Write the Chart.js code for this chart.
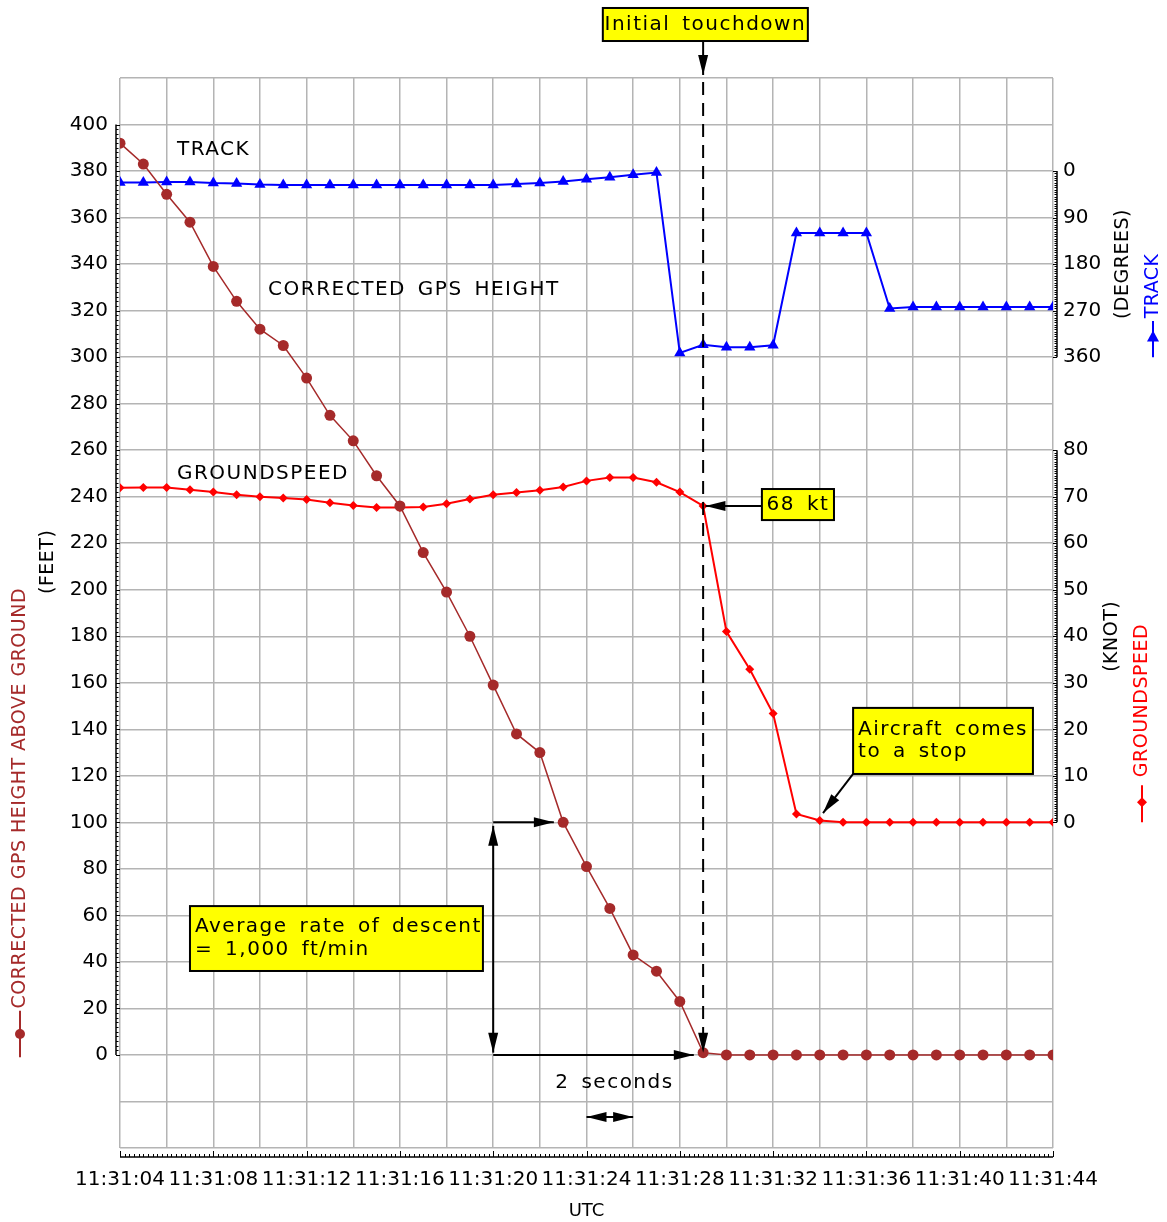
<!DOCTYPE html>
<html>
<head>
<meta charset="utf-8">
<script src="https://cdn.jsdelivr.net/npm/chart.js@4.4.1/dist/chart.umd.min.js"></script>
<style>
  html, body { margin: 0; padding: 0; background: #fff; }
</style>
</head>
<body>
<canvas id="chart" width="1167" height="1222"></canvas>
<script>
// seconds after 11:31:04 UTC (one sample per second)
const sampleSeconds = [0, 1, 2, 3, 4, 5, 6, 7, 8, 9, 10, 11, 12, 13, 14, 15, 16, 17, 18, 19, 20,
  21, 22, 23, 24, 25, 26, 27, 28, 29, 30, 31, 32, 33, 34, 35, 36, 37, 38, 39, 40];
const timeTickLabels = ['11:31:04', '11:31:08', '11:31:12', '11:31:16', '11:31:20', '11:31:24',
  '11:31:28', '11:31:32', '11:31:36', '11:31:40', '11:31:44'];

// corrected GPS height above ground (feet)
const heightFt = [392, 383, 370, 358, 339, 324, 312, 305, 291, 275, 264, 249, 236, 216, 199, 180,
  159, 138, 130, 100, 81, 63, 43, 36, 23, 1, 0, 0, 0, 0, 0, 0, 0, 0, 0, 0, 0, 0, 0, 0, 0];
// track (degrees)
const trackDeg = [22, 22, 21, 21, 23, 24, 26, 27, 27, 27, 27, 27, 27, 27, 27, 27,
  27, 25, 23, 20, 16, 12, 7, 3, 352, 336, 341, 341, 337, 120, 120, 120, 120, 266, 263, 263,
  263, 263, 263, 263, 263];
// groundspeed (knots)
const groundspeedKt = [71.9, 72.0, 72.0, 71.5, 71.0, 70.4, 70.0, 69.7, 69.4, 68.7, 68.1, 67.7,
  67.7, 67.8, 68.5, 69.5, 70.4, 70.9, 71.4, 72.1, 73.4, 74.1, 74.1, 73.1, 71.0, 68.0, 41.0,
  32.9, 23.4, 1.8, 0.4, 0, 0, 0, 0, 0, 0, 0, 0, 0, 0];

const heightTicks = [0, 20, 40, 60, 80, 100, 120, 140, 160, 180, 200, 220, 240, 260, 280, 300,
  320, 340, 360, 380, 400];
const trackTicks = [0, 90, 180, 270, 360];
const speedTicks = [0, 10, 20, 30, 40, 50, 60, 70, 80];

const touchdownSec = 25;

const FONT = 'DejaVu Sans';
const GRID = '#b4b4b4';
const BROWN = '#a52a2a';

Chart.defaults.font.family = FONT;
Chart.defaults.font.size = 20;
Chart.defaults.color = '#000';

function pts(values) {
  return values.map((v, i) => ({ x: sampleSeconds[i], y: v }));
}

function arrowHead(ctx, x, y, ang, len, half) {
  len = len || 20; half = half || 5;
  ctx.save();
  ctx.translate(x, y);
  ctx.rotate(ang);
  ctx.beginPath();
  ctx.moveTo(0, 0);
  ctx.lineTo(-len, -half);
  ctx.lineTo(-len, half);
  ctx.closePath();
  ctx.fill();
  ctx.restore();
}

function arrow(ctx, x1, y1, x2, y2, both) {
  ctx.beginPath();
  ctx.moveTo(x1, y1);
  ctx.lineTo(x2, y2);
  ctx.stroke();
  const a = Math.atan2(y2 - y1, x2 - x1);
  arrowHead(ctx, x2, y2, a);
  if (both) arrowHead(ctx, x1, y1, a + Math.PI);
}

function noteBox(ctx, x1, y1, x2, y2, lines, lineGap) {
  ctx.fillStyle = '#ffff00';
  ctx.fillRect(x1, y1, x2 - x1, y2 - y1);
  ctx.strokeStyle = '#000';
  ctx.lineWidth = 2;
  ctx.strokeRect(x1, y1, x2 - x1, y2 - y1);
  ctx.fillStyle = '#000';
  ctx.textBaseline = 'middle';
  if (lines.length === 1) {
    ctx.textAlign = 'center';
    ctx.fillText(lines[0], (x1 + x2) / 2, (y1 + y2) / 2);
  } else {
    ctx.textAlign = 'left';
    const start = (y1 + y2) / 2 - (lines.length - 1) * lineGap / 2;
    lines.forEach((t, i) => ctx.fillText(t, x1 + 5, start + i * lineGap));
  }
}

function ruler(ctx, fixed, from, to, step, majorEvery, minorLen, majorLen, vertical, scale) {
  ctx.beginPath();
  if (vertical) {
    ctx.moveTo(fixed, scale.getPixelForValue(from));
    ctx.lineTo(fixed, scale.getPixelForValue(to));
  } else {
    ctx.moveTo(scale.getPixelForValue(from), fixed);
    ctx.lineTo(scale.getPixelForValue(to), fixed);
  }
  ctx.lineWidth = 1.5;
  ctx.stroke();
  ctx.beginPath();
  const n = Math.round((to - from) / step);
  for (let k = 0; k <= n; k++) {
    const v = from + k * step;
    const p = Math.round(scale.getPixelForValue(v)) + 0.5;
    const major = Math.abs(v / majorEvery - Math.round(v / majorEvery)) < 1e-6;
    const len = major ? majorLen : minorLen;
    if (vertical) { ctx.moveTo(fixed, p); ctx.lineTo(fixed + len, p); }
    else { ctx.moveTo(p, fixed); ctx.lineTo(p, fixed + len); }
  }
  ctx.lineWidth = 1;
  ctx.stroke();
}

function rotatedText(ctx, text, x, y, color, align) {
  ctx.save();
  ctx.translate(x, y);
  ctx.rotate(-Math.PI / 2);
  ctx.fillStyle = color;
  ctx.textAlign = align;
  ctx.textBaseline = 'middle';
  ctx.fillText(text, 0, 0);
  ctx.restore();
}

const decorPlugin = {
  id: 'decor',
  afterDatasetsDraw(chart) {
    const ctx = chart.ctx;
    const xs = chart.scales.x, ys = chart.scales.y, ss = chart.scales.ySpeed;
    const X = v => xs.getPixelForValue(v);
    const Y = v => ys.getPixelForValue(v);
    const area = chart.chartArea;

    ctx.save();
    ctx.font = '20px "' + FONT + '"';
    ctx.letterSpacing = '1.5px';
    ctx.wordSpacing = '4px';

    // series labels
    ctx.fillStyle = '#000';
    ctx.textAlign = 'left';
    ctx.textBaseline = 'middle';
    ctx.fillText('TRACK', X(2.44), Y(389));
    ctx.fillText('CORRECTED GPS HEIGHT', X(6.35), Y(329));
    ctx.fillText('GROUNDSPEED', X(2.44), Y(250));

    // touchdown line
    ctx.strokeStyle = '#000';
    ctx.fillStyle = '#000';
    ctx.lineWidth = 2;
    ctx.setLineDash([13, 8]);
    ctx.beginPath();
    ctx.moveTo(X(touchdownSec), area.top + 4);
    ctx.lineTo(X(touchdownSec), Y(8));
    ctx.stroke();
    ctx.setLineDash([]);
    arrowHead(ctx, X(touchdownSec), Y(1), Math.PI / 2);
    arrow(ctx, X(touchdownSec), Y(436), X(touchdownSec), area.top - 3);
    noteBox(ctx, X(20.7), Y(450.1), X(29.49), Y(435.9), ['Initial touchdown']);

    // 68 kt
    ctx.lineWidth = 2;
    arrow(ctx, X(27.52), ss.getPixelForValue(68), X(25.1), ss.getPixelForValue(68));
    noteBox(ctx, X(27.52), Y(243.3), X(30.61), Y(229.95), ['68 kt']);

    // aircraft comes to a stop
    ctx.lineWidth = 2;
    arrow(ctx, X(31.43), Y(120.8), X(30.14), Y(104));
    noteBox(ctx, X(31.43), Y(149.2), X(39.14), Y(120.8), ['Aircraft comes', 'to a stop'], 22);

    // descent rate construction
    ctx.lineWidth = 2;
    arrow(ctx, X(16), Y(98.5), X(16), Y(1), true);
    arrow(ctx, X(16), Y(100), X(18.6), Y(100));
    arrow(ctx, X(16), Y(0), X(24.6), Y(0));
    noteBox(ctx, X(3.0), Y(64), X(15.56), Y(36.1), ['Average rate of descent', '= 1,000 ft/min'], 23);

    ctx.fillStyle = '#000';
    ctx.textAlign = 'center';
    ctx.textBaseline = 'middle';
    ctx.fillText('2 seconds', X(21.2), Y(-12));
    ctx.lineWidth = 2;
    arrow(ctx, X(20), Y(-26.7), X(22), Y(-26.7), true);
    ctx.restore();
  },
  afterDraw(chart) {
    const ctx = chart.ctx;
    const area = chart.chartArea;
    const xs = chart.scales.x, ys = chart.scales.y;
    const ts = chart.scales.yTrack, ss = chart.scales.ySpeed;
    ctx.save();
    ctx.strokeStyle = '#000';

    // axis rulers
    ruler(ctx, area.left - 4, 0, 400, 2, 20, 2.5, 4, true, ys);
    ruler(ctx, area.bottom + 9, 0, 40, 0.2, 4, -3, -6, false, xs);
    ruler(ctx, area.right + 4, 0, 360, 4.5, 90, -2.5, -4, true, ts);
    ruler(ctx, area.right + 4, 0, 80, 0.5, 10, -2.5, -4, true, ss);

    // groundspeed tick labels (same column as the track axis)
    ctx.font = '20px "' + FONT + '"';
    ctx.fillStyle = '#000';
    ctx.textAlign = 'left';
    ctx.textBaseline = 'middle';
    speedTicks.forEach(v => ctx.fillText(String(v), area.right + 10, ss.getPixelForValue(v)));

    // axis titles
    ctx.font = '19px "' + FONT + '"';
    ctx.letterSpacing = '0.5px';
    rotatedText(ctx, '(FEET)', 48, ys.getPixelForValue(212), '#000', 'center');
    rotatedText(ctx, 'CORRECTED GPS HEIGHT ABOVE GROUND', 20, ys.getPixelForValue(20), BROWN, 'left');
    ctx.strokeStyle = BROWN; ctx.fillStyle = BROWN; ctx.lineWidth = 2;
    ctx.beginPath();
    ctx.moveTo(20, ys.getPixelForValue(-1));
    ctx.lineTo(20, ys.getPixelForValue(19));
    ctx.stroke();
    ctx.beginPath();
    ctx.arc(20, ys.getPixelForValue(9), 5, 0, Math.PI * 2);
    ctx.fill();

    const tMid = (ts.getPixelForValue(0) + ts.getPixelForValue(360)) / 2;
    rotatedText(ctx, '(DEGREES)', 1123, tMid, '#000', 'center');
    rotatedText(ctx, 'TRACK', 1153, ts.getPixelForValue(285), '#0000ff', 'left');
    ctx.strokeStyle = '#0000ff'; ctx.fillStyle = '#0000ff';
    ctx.beginPath();
    ctx.moveTo(1153, ts.getPixelForValue(360));
    ctx.lineTo(1153, ts.getPixelForValue(290));
    ctx.stroke();
    const tk = ts.getPixelForValue(322);
    ctx.beginPath();
    ctx.moveTo(1153, tk - 7); ctx.lineTo(1159, tk + 4); ctx.lineTo(1147, tk + 4); ctx.closePath();
    ctx.fill();

    const sMid = (ss.getPixelForValue(0) + ss.getPixelForValue(80)) / 2;
    rotatedText(ctx, '(KNOT)', 1112, sMid, '#000', 'center');
    rotatedText(ctx, 'GROUNDSPEED', 1142, ss.getPixelForValue(9.7), '#ff0000', 'left');
    ctx.strokeStyle = '#ff0000'; ctx.fillStyle = '#ff0000';
    ctx.beginPath();
    ctx.moveTo(1142, ss.getPixelForValue(0));
    ctx.lineTo(1142, ss.getPixelForValue(8));
    ctx.stroke();
    const sk = ss.getPixelForValue(4.3);
    ctx.beginPath();
    ctx.moveTo(1142, sk - 5); ctx.lineTo(1147, sk); ctx.lineTo(1142, sk + 5); ctx.lineTo(1137, sk); ctx.closePath();
    ctx.fill();

    ctx.fillStyle = '#000';
    ctx.font = '18px "' + FONT + '"';
    ctx.letterSpacing = '0px';
    ctx.textAlign = 'center';
    ctx.textBaseline = 'middle';
    ctx.fillText('UTC', (area.left + area.right) / 2, 1211);
    ctx.restore();
  }
};

const ctx = document.getElementById('chart').getContext('2d');
const flightChart = new Chart(ctx, {
  type: 'line',
  data: {
    datasets: [
      {
        label: 'Corrected GPS height above ground',
        data: pts(heightFt),
        yAxisID: 'y',
        borderColor: BROWN,
        backgroundColor: BROWN,
        borderWidth: 1.5,
        pointStyle: 'circle',
        pointRadius: 5.5,
        pointBorderWidth: 0
      },
      {
        label: 'Track',
        data: pts(trackDeg),
        yAxisID: 'yTrack',
        borderColor: '#0000ff',
        backgroundColor: '#0000ff',
        borderWidth: 2,
        pointStyle: 'triangle',
        pointRadius: 6.5,
        pointBorderWidth: 0
      },
      {
        label: 'Groundspeed',
        data: pts(groundspeedKt),
        yAxisID: 'ySpeed',
        borderColor: '#ff0000',
        backgroundColor: '#ff0000',
        borderWidth: 2,
        pointStyle: 'rectRot',
        pointRadius: 4.5,
        pointBorderWidth: 0
      }
    ]
  },
  options: {
    responsive: false,
    animation: false,
    layout: { padding: { top: 78, left: 0, right: 0, bottom: 0 } },
    plugins: { legend: { display: false }, tooltip: { enabled: false } },
    scales: {
      x: {
        type: 'linear',
        min: 0,
        max: 40,
        ticks: {
          stepSize: 2,
          autoSkip: false,
          maxRotation: 0,
          padding: 20,
          callback: v => (v % 4 === 0 ? timeTickLabels[v / 4] : '')
        },
        grid: { color: GRID, lineWidth: 1.5, drawTicks: false },
        border: { display: false },
        afterFit: s => { s.height = 74; }
      },
      y: {
        type: 'linear',
        position: 'left',
        min: -40,
        max: 420,
        ticks: {
          stepSize: 20,
          padding: 12,
          callback: v => (heightTicks.includes(v) ? String(v) : '')
        },
        grid: { color: GRID, lineWidth: 1.5, drawTicks: false },
        border: { display: false },
        afterFit: s => { s.width = 120; }
      },
      ySpeed: {
        type: 'linear',
        position: 'right',
        display: false,
        min: -70,
        max: 160
      },
      yTrack: {
        type: 'linear',
        position: 'right',
        reverse: true,
        min: -180,
        max: 1890,
        afterBuildTicks: s => { s.ticks = trackTicks.map(v => ({ value: v })); },
        ticks: { padding: 10, autoSkip: false },
        grid: { display: false, drawTicks: false },
        border: { display: false },
        afterFit: s => { s.width = 114; }
      }
    }
  },
  plugins: [decorPlugin]
});
</script>
</body>
</html>
